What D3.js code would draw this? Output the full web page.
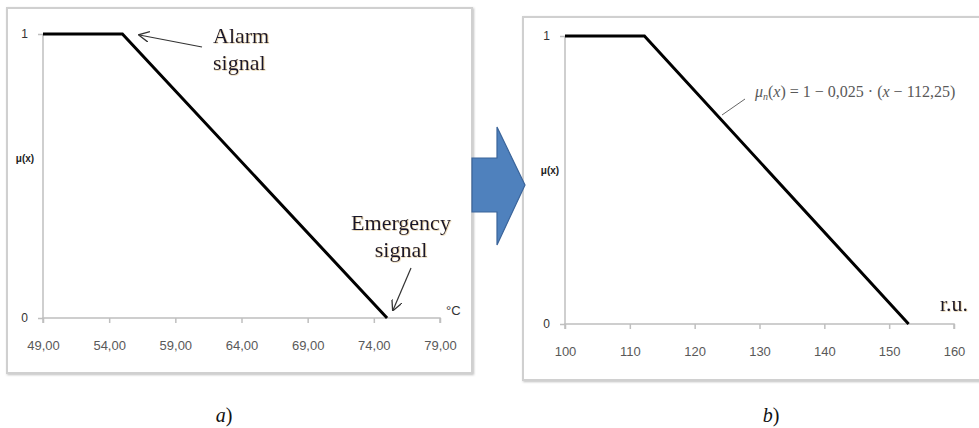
<!DOCTYPE html>
<html>
<head>
<meta charset="utf-8">
<script src="https://cdn.jsdelivr.net/npm/d3@7"></script>
<style>
  body { margin: 0; background: #fff; }
  svg { display: block; }
</style>
</head>
<body>
<div id="viz"></div>
<script>
//Datos: a) temperatura, b) unidades relativas
const tempX = [49, 55, 75];
const tempMu = [1, 1, 0];
const tempTicks = [49, 54, 59, 64, 69, 74, 79];
const tempTickLabels = ['49,00', '54,00', '59,00', '64,00', '69,00', '74,00', '79,00'];

const ruX = [100, 112.25, 153];
const ruMu = [1, 1, 0];
const ruTicks = [100, 110, 120, 130, 140, 150, 160];
const ruTickLabels = ['100', '110', '120', '130', '140', '150', '160'];

const muTicks = [0, 1];

const AXIS_GREY = '#BFBFBF', LABEL_GREY = '#595959', TEXT_NAVY = '#12122e';

let svg = d3.select('#viz').append('svg')
    .attr('width', 979)
    .attr('height', 428);

let defs = svg.append('defs');
let f = defs.append('filter').attr('id', 'shadow').attr('x', '-5%').attr('y', '-5%').attr('width', '110%').attr('height', '110%');
f.append('feDropShadow').attr('dx', 1).attr('dy', 1).attr('stdDeviation', 1).attr('flood-color', '#000').attr('flood-opacity', 0.25);

let txtShadow = defs.append('filter').attr('id', 'txtshadow');
txtShadow.append('feDropShadow').attr('dx', 0.6).attr('dy', 0.6).attr('stdDeviation', 0.4).attr('flood-color', '#c8a050').attr('flood-opacity', 0.6);

defs.append('marker')
    .attr('id', 'arrowhead')
    .attr('viewBox', '0 0 10 10')
    .attr('refX', 9).attr('refY', 5)
    .attr('markerWidth', 9).attr('markerHeight', 9)
    .attr('orient', 'auto-start-reverse')
    .append('path')
    .attr('d', 'M0,0 L10,5 L0,10')
    .attr('fill', 'none')
    .attr('stroke', '#333')
    .attr('stroke-width', 1.2);

//Marcos
svg.append('rect')
    .attr('x', 7).attr('y', 8).attr('width', 465).attr('height', 365)
    .attr('fill', '#fff').attr('stroke', '#D0D0D0').attr('stroke-width', 2)
    .attr('filter', 'url(#shadow)');

svg.append('rect')
    .attr('x', 523).attr('y', 17).attr('width', 470).attr('height', 363)
    .attr('fill', '#fff').attr('stroke', '#D0D0D0').attr('stroke-width', 2)
    .attr('filter', 'url(#shadow)');

//Flecha azul
svg.append('path')
    .attr('d', 'M472,158 L497,158 L497,127 L525,185 L497,245 L497,212 L472,212 Z')
    .attr('fill', '#4F81BD')
    .attr('stroke', '#3A649A')
    .attr('stroke-width', 1.2);

function drawPanel(cfg) {
    let x = d3.scaleLinear().domain(cfg.xDomain).range(cfg.xRange);
    let y = d3.scaleLinear().domain([0, 1]).range(cfg.yRange);

    let g = svg.append('g');

    let xAxis = g.append('g')
        .attr('transform', 'translate(0,' + y(0) + ')')
        .call(d3.axisBottom(x)
            .tickValues(cfg.ticks)
            .tickFormat(function(d, i) { return cfg.tickLabels[i]; })
            .tickSize(5)
            .tickPadding(18));
    xAxis.select('.domain').attr('stroke', AXIS_GREY).attr('stroke-width', 1.5)
        .attr('d', 'M' + x(cfg.xDomain[0]) + ',5V0H' + x(cfg.xDomain[1]) + 'V5');
    xAxis.selectAll('.tick line').attr('stroke', AXIS_GREY).attr('stroke-width', 1.5);
    xAxis.selectAll('.tick text')
        .attr('fill', LABEL_GREY)
        .style('font-family', 'Liberation Sans, Arial, sans-serif')
        .style('font-size', '13px');

    let yAxis = g.append('g')
        .attr('transform', 'translate(' + x(cfg.xDomain[0]) + ',0)')
        .call(d3.axisLeft(y)
            .tickValues(muTicks)
            .tickFormat(d3.format('d'))
            .tickSize(5)
            .tickPadding(10));
    yAxis.select('.domain').attr('stroke', AXIS_GREY).attr('stroke-width', 1.5)
        .attr('d', 'M0,' + y(0) + 'V' + y(1));
    yAxis.selectAll('.tick line').attr('stroke', AXIS_GREY).attr('stroke-width', 1.5);
    yAxis.selectAll('.tick text')
        .attr('fill', '#333')
        .style('font-family', 'Liberation Sans, Arial, sans-serif')
        .style('font-size', '12px');

    g.append('text')
        .attr('x', cfg.muX).attr('y', cfg.muY)
        .attr('text-anchor', 'middle')
        .attr('fill', '#222')
        .style('font-family', 'Liberation Sans, Arial, sans-serif')
        .style('font-size', '10px')
        .style('font-weight', 'bold')
        .text('μ(x)');

    let line = d3.line()
        .x(function(d) { return x(d[0]); })
        .y(function(d) { return y(d[1]); });

    g.append('path')
        .datum(d3.zip(cfg.xs, cfg.mus))
        .attr('d', line)
        .attr('fill', 'none')
        .attr('stroke', '#000')
        .attr('stroke-width', 3)
        .attr('stroke-linejoin', 'miter');

    return { x: x, y: y, g: g };
}

let pa = drawPanel({
    xDomain: [49, 79], xRange: [43, 440], yRange: [318, 34],
    ticks: tempTicks, tickLabels: tempTickLabels,
    xs: tempX, mus: tempMu, muX: 25, muY: 162
});

let pb = drawPanel({
    xDomain: [100, 160], xRange: [565, 954], yRange: [324, 36],
    ticks: ruTicks, tickLabels: ruTickLabels,
    xs: ruX, mus: ruMu, muX: 550, muY: 174
});

//Anotaciones panel a
function serifLabel(lines, xPos, yPos, anchor, size) {
    let t = svg.append('text')
        .attr('text-anchor', anchor)
        .attr('fill', TEXT_NAVY)
        .attr('filter', 'url(#txtshadow)')
        .style('font-family', 'Liberation Serif, Times New Roman, serif')
        .style('font-size', size + 'px');
    lines.forEach(function(l, i) {
        t.append('tspan').attr('x', xPos).attr('y', yPos + i * 27).text(l);
    });
}

serifLabel(['Alarm', 'signal'], 213, 43, 'start', 22);
serifLabel(['Emergency', 'signal'], 401, 230, 'middle', 22);

svg.append('line')
    .attr('x1', 202).attr('y1', 47)
    .attr('x2', pa.x(55) + 17).attr('y2', pa.y(1) + 1)
    .attr('stroke', '#333').attr('stroke-width', 1.2)
    .attr('marker-end', 'url(#arrowhead)');

svg.append('line')
    .attr('x1', 411).attr('y1', 268)
    .attr('x2', pa.x(75) + 6).attr('y2', pa.y(0) - 8)
    .attr('stroke', '#333').attr('stroke-width', 1.2)
    .attr('marker-end', 'url(#arrowhead)');

svg.append('text')
    .attr('x', 446).attr('y', 315)
    .attr('fill', '#333')
    .style('font-family', 'Liberation Sans, Arial, sans-serif')
    .style('font-size', '13px')
    .text('°C');

//Anotaciones panel b
serifLabel(['r.u.'], 940, 311, 'start', 22);

let formula = svg.append('text')
    .attr('x', 755).attr('y', 97)
    .attr('fill', LABEL_GREY)
    .style('font-family', 'Liberation Serif, Times New Roman, serif')
    .style('font-size', '16px');
formula.append('tspan').style('font-style', 'italic').text('μ');
formula.append('tspan').style('font-style', 'italic').style('font-size', '10px').attr('dy', 3).text('n');
formula.append('tspan').attr('dy', -3).text('(');
formula.append('tspan').style('font-style', 'italic').text('x');
formula.append('tspan').text(') = 1 − 0,025 · (');
formula.append('tspan').style('font-style', 'italic').text('x');
formula.append('tspan').text(' − 112,25)');

svg.append('line')
    .attr('x1', 745).attr('y1', 99)
    .attr('x2', 722).attr('y2', 115)
    .attr('stroke', '#666').attr('stroke-width', 1);

//Rótulos
function caption(letter, xPos) {
    let t = svg.append('text')
        .attr('x', xPos).attr('y', 422)
        .attr('text-anchor', 'middle')
        .attr('fill', '#111')
        .style('font-family', 'Liberation Serif, Times New Roman, serif')
        .style('font-size', '20px');
    t.append('tspan').style('font-style', 'italic').text(letter);
    t.append('tspan').text(')');
}
caption('a', 224);
caption('b', 771);
</script>
</body>
</html>
